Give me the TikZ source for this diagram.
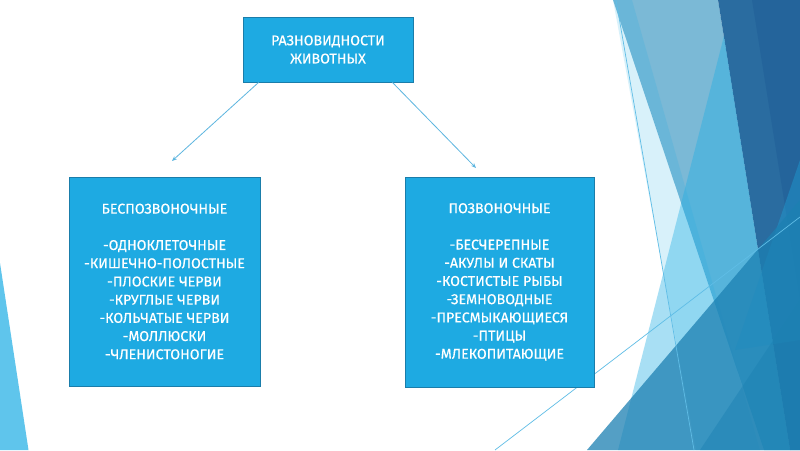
\documentclass[tikz,border=0pt]{standalone}
\usepackage{fontspec}
\newfontfamily\boxfont[FakeBold=0.35]{Fira Sans}
\usetikzlibrary{arrows.meta}
\definecolor{boxblue}{HTML}{1EAAE2}
\definecolor{boxedge}{HTML}{1A7DAA}
\definecolor{accent}{HTML}{1CADE4}
\definecolor{steel}{HTML}{7BB9D6}
\definecolor{darkb}{HTML}{2A6CA0}
\definecolor{darkc}{HTML}{24649B}
\definecolor{teal}{HTML}{1C80B2}
\definecolor{thinline}{HTML}{5FBDE6}
\definecolor{arrowc}{HTML}{5DB6E0}
\tikzset{
  bluebox/.style={draw=boxedge, line width=0.8pt, fill=boxblue, text=white,
    align=center, inner sep=0pt,
    font={\boxfont\fontsize{14.2}{18.2}\selectfont}},
  linkarrow/.style={draw=arrowc, line width=0.8pt, -{Stealth[length=5pt,width=4pt]}},
  facetline/.style={draw=thinline, line width=0.7pt}
}
\begin{document}
\begin{tikzpicture}[x=1pt,y=-1pt]
\useasboundingbox (0,0) rectangle (800,450);
\fill[white] (0,0) rectangle (800,450);
% decorative facets (right)
\begin{scope}
\clip (0,0) rectangle (800,450);
\fill[steel] (613,0) -- (718,0) -- (790,450) -- (764,450) -- cycle;
\fill[darkb] (718,0) -- (800,0) -- (800,450) -- (790,450) -- cycle;
\fill[darkc] (752,0) -- (800,0) -- (800,300) -- cycle;
\fill[accent, opacity=0.17] (613,0) -- (632,0) -- (760,450) -- (696,450) -- cycle;
\fill[accent, opacity=0.38] (724,36) -- (618,450) -- (790,450) -- cycle;
\fill[accent, opacity=0.35] (800,160) -- (735,350) -- (800,340) -- cycle;
\fill[teal, opacity=0.75] (587,450) -- (800,200) -- (800,450) -- cycle;
\fill[teal, opacity=0.45] (700,450) -- (800,300) -- (800,450) -- cycle;
% left sliver
\fill[accent, opacity=0.7] (0,263) -- (28.5,450) -- (0,450) -- cycle;
\end{scope}
\coordinate (l1a) at (616,0);
\coordinate (l1b) at (694,450);
\coordinate (l2a) at (495,450);
\coordinate (l2b) at (800,217);
\draw[facetline] (l1a) -- (l1b);
\draw[facetline] (l2a) -- (l2b);
% boxes
\node[bluebox, minimum width=170pt, minimum height=65pt] (top) at (328,49.5)
  {РАЗНОВИДНОСТИ\\ЖИВОТНЫХ};
\node[bluebox, minimum width=191pt, minimum height=209pt] (inv) at (164.5,281.5)
  {БЕСПОЗВОНОЧНЫЕ\\[18.2pt]-ОДНОКЛЕТОЧНЫЕ\\-КИШЕЧНО-ПОЛОСТНЫЕ\\-ПЛОСКИЕ ЧЕРВИ\\-КРУГЛЫЕ ЧЕРВИ\\-КОЛЬЧАТЫЕ ЧЕРВИ\\-МОЛЛЮСКИ\\-ЧЛЕНИСТОНОГИЕ};
\node[bluebox, minimum width=189pt, minimum height=210pt] (vert) at (499.5,282)
  {ПОЗВОНОЧНЫЕ\\[18.2pt]-БЕСЧЕРЕПНЫЕ\\-АКУЛЫ И СКАТЫ\\-КОСТИСТЫЕ РЫБЫ\\-ЗЕМНОВОДНЫЕ\\-ПРЕСМЫКАЮЩИЕСЯ\\-ПТИЦЫ\\-МЛЕКОПИТАЮЩИЕ};
% arrows
\coordinate (endl) at (172,161);
\coordinate (endr) at (476,168);
\draw[linkarrow] ([xshift=16pt]top.south west) -- (endl);
\draw[linkarrow] ([xshift=-21pt]top.south east) -- (endr);
\end{tikzpicture}
\end{document}
